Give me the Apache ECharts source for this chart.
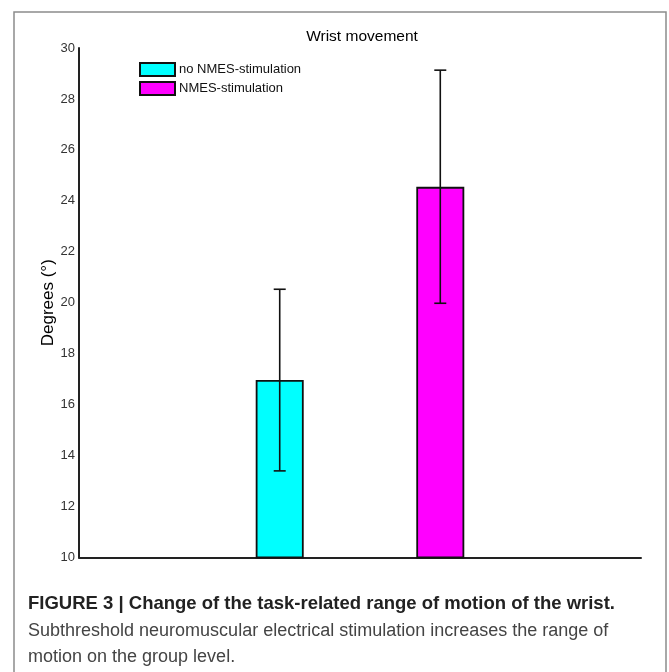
<!DOCTYPE html>
<html>
<head>
<meta charset="utf-8">
<script src="https://cdn.jsdelivr.net/npm/echarts@6/dist/echarts.min.js"></script>
<style>
html,body{margin:0;padding:0;background:#fff;}
#chart{width:669px;height:672px;}
</style>
</head>
<body>
<div id="chart"></div>
<script>
const categories = ['no NMES-stimulation', 'NMES-stimulation'];
const xPositions = [1, 2];
const means = [16.97, 24.55];
const errLow = [13.40, 19.98];
const errHigh = [20.53, 29.13];
const barColors = ['#00FFFF', '#FF00FF'];
const chartTitle = 'Wrist movement';
const yAxisName = 'Degrees (°)';
const captionBold = 'FIGURE 3 | Change of the task-related range of motion of the wrist.';
const captionLines = ['Subthreshold neuromuscular electrical stimulation increases the range of', 'motion on the group level.'];

const chart = echarts.init(document.getElementById('chart'));

const barSeries = categories.map((name, i) => ({
  name: name,
  type: 'bar',
  barWidth: 48,
  barGap: '-100%',
  itemStyle: { color: barColors[i], borderColor: '#111', borderWidth: 1.8 },
  data: [[xPositions[i], means[i]]],
  z: 2
}));

const errData = xPositions.map((x, i) => [x, errLow[i], errHigh[i]]);

const option = {
  animation: false,
  backgroundColor: '#fff',
  title: {
    text: chartTitle,
    left: 357,
    textAlign: 'center',
    top: 24,
    textStyle: { fontFamily: 'Liberation Sans', fontSize: 15.5, fontWeight: 'normal', color: '#000' }
  },
  legend: {
    data: categories,
    orient: 'vertical',
    left: 139,
    top: 62,
    padding: 0,
    itemWidth: 35,
    itemHeight: 13,
    itemGap: 4,
    icon: 'rect',
    textStyle: { fontFamily: 'Liberation Sans', fontSize: 13, color: '#111', padding: [0, 0, 0, -1] }
  },
  grid: { left: 79, top: 48, right: 28, bottom: 114.5, containLabel: false },
  xAxis: {
    type: 'value',
    min: -0.25,
    max: 3.25,
    axisLine: { show: true, onZero: false, lineStyle: { color: '#222', width: 2 } },
    axisTick: { show: false },
    axisLabel: { show: false },
    splitLine: { show: false }
  },
  yAxis: {
    type: 'value',
    min: 10,
    max: 30,
    interval: 2,
    name: yAxisName,
    nameLocation: 'middle',
    nameGap: 22,
    nameMoveOverlap: false,
    nameTextStyle: { fontFamily: 'Liberation Sans', fontSize: 17, color: '#000' },
    axisLine: { show: true, onZero: false, lineStyle: { color: '#222', width: 2 } },
    axisTick: { show: false },
    axisLabel: { fontFamily: 'Liberation Sans', fontSize: 13, color: '#333', margin: 4 },
    splitLine: { show: false }
  },
  series: barSeries.concat([{
    type: 'custom',
    z: 5,
    data: errData,
    renderItem: function (params, api) {
      const x = api.value(0);
      const lo = api.coord([x, api.value(1)]);
      const hi = api.coord([x, api.value(2)]);
      const cap = 6;
      const st = { stroke: '#111', lineWidth: 1.6 };
      return {
        type: 'group',
        children: [
          { type: 'line', shape: { x1: lo[0], y1: lo[1], x2: hi[0], y2: hi[1] }, style: st },
          { type: 'line', shape: { x1: hi[0] - cap, y1: hi[1], x2: hi[0] + cap, y2: hi[1] }, style: st },
          { type: 'line', shape: { x1: lo[0] - cap, y1: lo[1], x2: lo[0] + cap, y2: lo[1] }, style: st }
        ]
      };
    }
  }]),
  graphic: [
    { type: 'rect', shape: { x: 14, y: 12, width: 652, height: 700 }, style: { fill: 'none', stroke: '#8c8c8c', lineWidth: 1.5 }, z: -1 },
    { type: 'text', style: { x: 28, y: 604, text: captionBold, font: 'bold 18.5px "Liberation Sans"', fill: '#222', textVerticalAlign: 'middle' } },
    { type: 'text', style: { x: 28, y: 631, text: captionLines[0], font: '18px "Liberation Sans"', fill: '#444', textVerticalAlign: 'middle' } },
    { type: 'text', style: { x: 28, y: 657, text: captionLines[1], font: '18px "Liberation Sans"', fill: '#444', textVerticalAlign: 'middle' } }
  ]
};
chart.setOption(option);
</script>
</body>
</html>
